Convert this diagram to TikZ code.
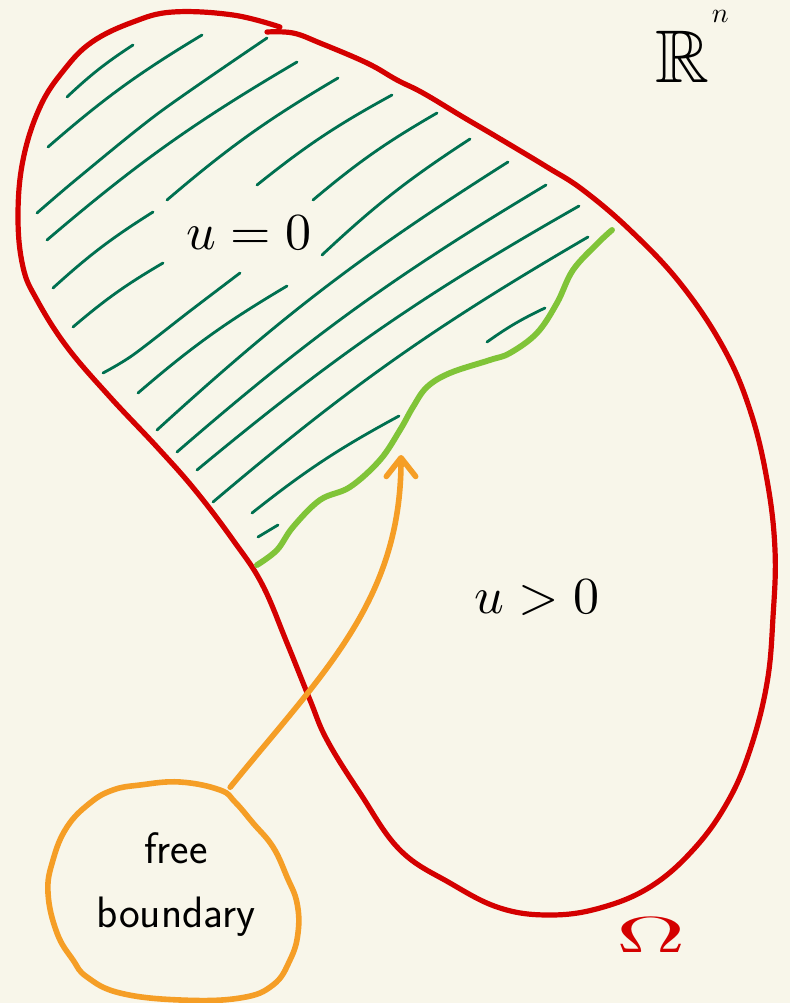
\documentclass[tikz,border=0pt]{standalone}
\usepackage{amssymb}
\usepackage{graphicx}
\usetikzlibrary{arrows.meta,shapes.geometric}
\definecolor{bgc}{RGB}{248,246,234}
\definecolor{omred}{RGB}{212,0,0}
\definecolor{hatchgreen}{RGB}{0,112,80}
\definecolor{fbgreen}{RGB}{128,196,56}
\definecolor{fborange}{RGB}{245,158,38}
\begin{document}
\begin{tikzpicture}[x=0.75pt,y=-0.75pt,
  domainline/.style={draw=omred,line width=3.9pt,line cap=round,line join=round},
  hatchline/.style={draw=hatchgreen,line width=2.1pt,line cap=round},
  freeline/.style={draw=fbgreen,line width=4.4pt,line cap=round,line join=round},
  orangeline/.style={draw=fborange,line width=4.2pt,line cap=round,line join=round},
  mathlabel/.style={inner sep=0pt}]
\fill[bgc] (0,0) rectangle (790,1003);
\useasboundingbox (0,0) rectangle (790,1003);

% hatching of the region u=0
\draw[hatchline] (67,97) to[bend left=5] (133,45);
\draw[hatchline] (48,147) to[bend left=5] (202,35);
\draw[hatchline] plot[smooth] coordinates {(37,213) (78,178) (160,112) (267,38)};
\draw[hatchline] (47,240) to[bend left=5] (297,62);
\draw[hatchline] (167,200) to[bend left=5] (338,78);
\draw[hatchline] (53,288) to[bend left=5] (153,212);
\draw[hatchline] (257,185) to[bend left=5] (392,95);
\draw[hatchline] (313,200) to[bend left=5] (437,113);
\draw[hatchline] (322,255) to[bend left=5] (470,139);
\draw[hatchline] (73,327) to[bend left=5] (163,263);
\draw[hatchline] plot[smooth] coordinates {(103,373) (133,355) (190,311) (240,273)};
\draw[hatchline] (138,393) to[bend left=5] (287,286);
\draw[hatchline] (157,430) to[bend left=5] (508,162);
\draw[hatchline] (177,452) to[bend left=5] (546,185);
\draw[hatchline] (197,470) to[bend left=5] (579,206);
\draw[hatchline] (213,502) to[bend left=5] (588,237);
\draw[hatchline] (252,513) to[bend left=5] (399,416);
\draw[hatchline] (258,537) to (278,525);
\draw[hatchline] (487,342) to[bend left=5] (545,308);

% domain Omega
\draw[domainline] plot[smooth,tension=0.65] coordinates {
 (267,32) (293,33) (320,43) (367,63) (397,80) (423,93) (463,117) (497,137)
 (547,167) (583,190) (630,230) (680,283) (723,347) (750,410) (767,480)
 (775,550) (773,617) (767,683) (750,750) (727,803) (693,850) (650,887)
 (600,908) (550,915) (500,908) (450,883) (400,850) (360,793) (327,740)
 (310,700) (287,643) (262,584) (233,540) (195,490) (157,447) (110,397)
 (67,347) (37,300) (23,267) (18,217) (23,160) (40,107) (64,70) (92,42)
 (133,22) (173,12) (233,15) (280,27)};

% free boundary curve
\draw[freeline] plot[smooth,tension=0.6] coordinates {
 (612,230) (598,243) (573,270) (557,303) (537,333) (510,353) (490,360)
 (450,373) (427,387) (413,407) (400,430) (380,460) (350,487) (320,500)
 (293,527) (277,550) (257,565)};

% labels
\node[mathlabel] (uz) at (249,233) {\scalebox{3.9}{$u=0$}};
\node[mathlabel] (up) at (537,598) {\scalebox{3.9}{$u>0$}};
\node[anchor=base west,inner sep=0pt] (rn) at (655,82)
  {\fontsize{56}{60}\selectfont$\mathbb{R}$\hspace{2pt}\raisebox{45pt}{\normalsize\scalebox{2.1}{$n$}}};
\node[inner sep=0pt,text=omred] (om) at (651,935)
  {\scalebox{7.2}[3.8]{$\Omega$}};

% free boundary bubble
\draw[orangeline] plot[smooth cycle,tension=0.7] coordinates {
 (140,785) (180,782) (220,790) (235,802) (253,823) (273,847) (287,877)
 (297,903) (298,933) (290,960) (273,985) (240,998) (180,1000) (120,993)
 (87,977) (73,960) (57,933) (48,893) (53,860) (67,827) (90,803) (113,790)};
\node[ellipse,minimum width=189pt,minimum height=162pt,inner sep=0pt,
  align=center,font=\sffamily\fontsize{33}{48}\selectfont] (fb) at (176,885)
  {free\\boundary};
\coordinate (tip) at (401,455);
\draw[orangeline,-{Straight Barb[length=14pt,width=22pt,round]}]
  (fb.61) to[out=51,in=-90] (tip);
\end{tikzpicture}
\end{document}
